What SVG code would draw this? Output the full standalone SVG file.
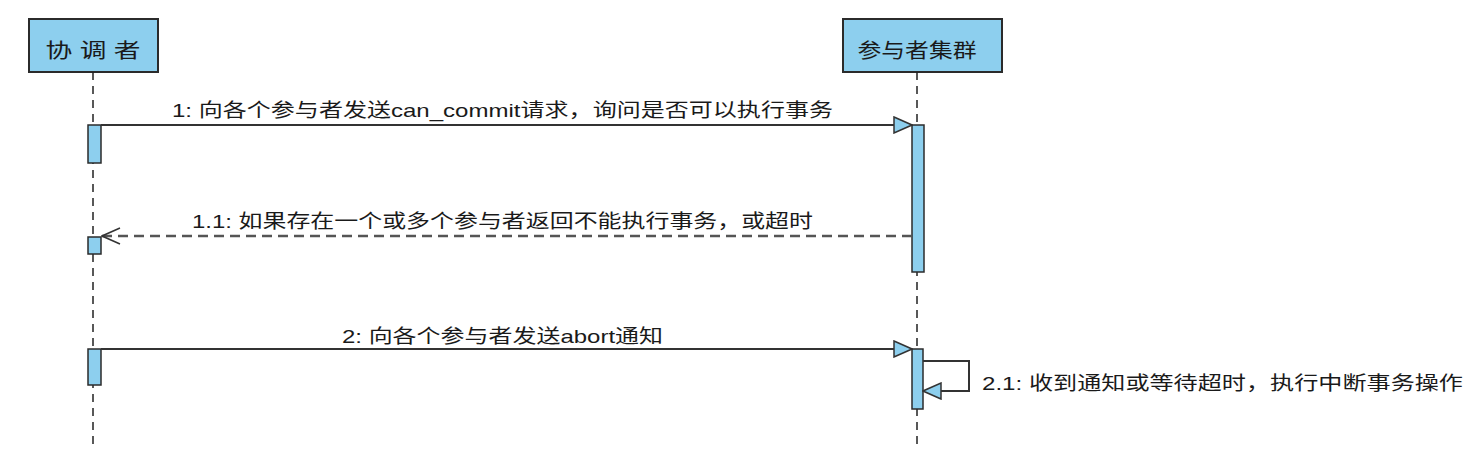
<svg xmlns="http://www.w3.org/2000/svg" width="1484" height="450" viewBox="0 0 1484 450">
<defs>
<style>
text{font-family:"Liberation Sans","Noto Sans CJK SC",sans-serif;fill:#1a1a1a;}
.lbl{font-size:19px;}
.ttl{font-size:20px;text-anchor:middle;}
.box{fill:#8DCFEE;stroke:#2b2b2b;stroke-width:2;}
.act{fill:#8DCFEE;stroke:#2b2b2b;stroke-width:1.5;}
.life{stroke:#222;stroke-width:1.5;stroke-dasharray:8,6;fill:none;}
.msg{stroke:#333;stroke-width:2;fill:none;}
.ret{stroke:#555;stroke-width:2.5;stroke-dasharray:10,6;fill:none;}
</style>
<marker id="tri" viewBox="0 0 20 18" refX="19" refY="9" markerWidth="20" markerHeight="18" markerUnits="userSpaceOnUse" orient="auto">
<path d="M1,1 L19,9 L1,17 Z" fill="#8DCFEE" stroke="#333" stroke-width="1.5"/>
</marker>
<marker id="open" viewBox="0 0 20 18" refX="19" refY="9" markerWidth="20" markerHeight="18" markerUnits="userSpaceOnUse" orient="auto">
<path d="M1,1 L19,9 L1,17" fill="none" stroke="#333" stroke-width="1.5"/>
</marker>
</defs>
<rect width="1484" height="450" fill="#ffffff"/>
<g id="coordinator">
<rect class="box" x="29" y="19" width="129" height="53"/>
<text class="ttl" x="93" y="58" textLength="95" lengthAdjust="spacingAndGlyphs">协 调 者</text>
<line class="life" x1="93" y1="72" x2="93" y2="450"/>
<rect class="act" x="88" y="125" width="13" height="38"/>
<rect class="act" x="88" y="237" width="13" height="17"/>
<rect class="act" x="88" y="349" width="13" height="36"/>
</g>
<g id="participants">
<rect class="box" x="843" y="19" width="159" height="53"/>
<text class="ttl" x="917" y="58" textLength="119" lengthAdjust="spacingAndGlyphs">参与者集群</text>
<line class="life" x1="917" y1="72" x2="917" y2="450"/>
<rect class="act" x="912" y="125" width="12" height="147"/>
<rect class="act" x="912" y="349" width="11" height="60"/>
</g>
<g id="connectors">
<line class="msg" x1="101" y1="125" x2="912" y2="125" marker-end="url(#tri)"/>
<text class="lbl" x="172" y="117" textLength="661" lengthAdjust="spacingAndGlyphs">1: 向各个参与者发送can_commit请求，询问是否可以执行事务</text>
<line class="ret" x1="912" y1="236" x2="102" y2="236" marker-end="url(#open)"/>
<text class="lbl" x="192" y="228" textLength="621" lengthAdjust="spacingAndGlyphs">1.1: 如果存在一个或多个参与者返回不能执行事务，或超时</text>
<line class="msg" x1="101" y1="349" x2="912" y2="349" marker-end="url(#tri)"/>
<text class="lbl" x="342" y="343" textLength="321" lengthAdjust="spacingAndGlyphs">2: 向各个参与者发送abort通知</text>
<polyline class="msg" points="923,361 969,361 969,391 923,391" marker-end="url(#tri)"/>
<text class="lbl" x="982" y="390" textLength="481" lengthAdjust="spacingAndGlyphs">2.1: 收到通知或等待超时，执行中断事务操作</text>
</g>
</svg>
